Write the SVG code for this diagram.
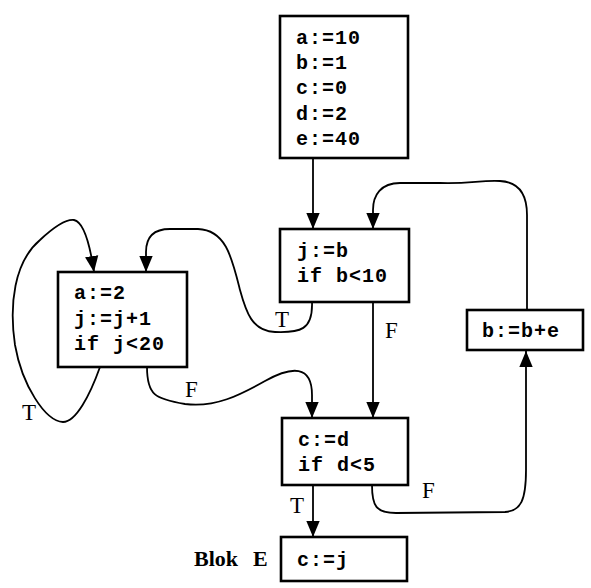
<svg xmlns="http://www.w3.org/2000/svg" width="591" height="588" viewBox="0 0 591 588">
<style>
.box{fill:#fff;stroke:#000;stroke-width:2.6}
.code{font-family:"Liberation Mono","DejaVu Sans Mono",monospace;font-weight:bold;font-size:20px;letter-spacing:1px;fill:#000}
.lbl{font-family:"Liberation Serif","Times New Roman",serif;font-size:23px;fill:#000}
.edge{fill:none;stroke:#000;stroke-width:1.8}
</style>
<defs>
<marker id="ah" markerUnits="userSpaceOnUse" markerWidth="16" markerHeight="20" refX="18" refY="7.5" orient="auto" viewBox="0 0 18 15">
<path d="M0,0 L18,7.5 L0,15 Z" fill="#000"/>
</marker>
</defs>
<rect width="591" height="588" fill="#fff"/>
<g id="connectors">
<path class="edge" d="M313,158 L313,229" marker-end="url(#ah)"/>
<path class="edge" d="M312,302 C313,330 300,333 275,332 C252,331 246,312 240,290 C232,258 226,230 198,229 L170,229 C152,229 146,238 146,252 L146,272" marker-end="url(#ah)"/>
<path class="edge" d="M100,367 C90,395 76,422 63,422 C45,421 22,385 15,345 C9,305 14,262 40,240 C55,226 66,219 74,220 C84,222 90,245 94,272" marker-end="url(#ah)"/>
<path class="edge" d="M147,367 C147,395 155,399 185,404 C215,408 240,395 265,381 C292,366 312,365 312,395 L312,418" marker-end="url(#ah)"/>
<path class="edge" d="M373,302 L373,418" marker-end="url(#ah)"/>
<path class="edge" d="M313,485 L313,537" marker-end="url(#ah)"/>
<path class="edge" d="M372,485 C372,506 376,513 396,513 L505,512 C521,511 526,500 526,470 L526,351" marker-end="url(#ah)"/>
<path class="edge" d="M527,310 L527,215 C527,195 520,182 500,181 C480,180 470,184 440,183 L400,183 C381,183 373,195 373,210 L373,229" marker-end="url(#ah)"/>
</g>
<g id="labels">
<text class="lbl" x="275" y="327">T</text>
<text class="lbl" x="385" y="338">F</text>
<text class="lbl" x="185" y="397">F</text>
<text class="lbl" x="22" y="420">T</text>
<text class="lbl" x="290" y="513">T</text>
<text class="lbl" x="422" y="498">F</text>
</g>
<g id="nodeA">
<rect class="box" x="280" y="16" width="128" height="142"/>
<text class="code" x="296" y="44">a:=10</text>
<text class="code" x="296" y="69">b:=1</text>
<text class="code" x="296" y="94">c:=0</text>
<text class="code" x="296" y="120">d:=2</text>
<text class="code" x="296" y="145">e:=40</text>
</g>
<g id="nodeB">
<rect class="box" x="280" y="229" width="129" height="73"/>
<text class="code" x="297" y="257">j:=b</text>
<text class="code" x="297" y="282">if b&lt;10</text>
</g>
<g id="nodeC">
<rect class="box" x="58" y="272" width="129" height="95"/>
<text class="code" x="74" y="299">a:=2</text>
<text class="code" x="74" y="325">j:=j+1</text>
<text class="code" x="74" y="350">if j&lt;20</text>
</g>
<g id="nodeD">
<rect class="box" x="282" y="418" width="126" height="67"/>
<text class="code" x="298" y="446">c:=d</text>
<text class="code" x="298" y="471">if d&lt;5</text>
</g>
<g id="nodeE">
<rect class="box" x="281" y="537" width="126" height="44"/>
<text class="code" x="297" y="566">c:=j</text>
<text font-family="Liberation Serif,Times New Roman,serif" font-weight="bold" font-size="22" x="194" y="566">Blok <tspan x="253">E</tspan></text>
</g>
<g id="nodeF">
<rect class="box" x="467" y="310" width="116" height="40"/>
<text class="code" x="482" y="337">b:=b+e</text>
</g>
</svg>
